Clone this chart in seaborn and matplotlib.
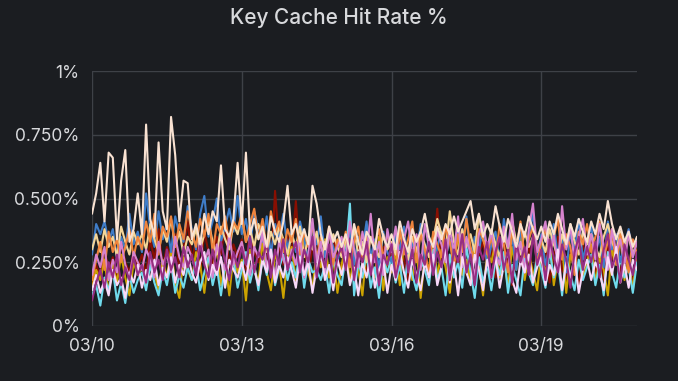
import pandas as pd
import matplotlib.pyplot as plt
import matplotlib.dates as mdates
import seaborn as sns

# values in percent, one point every 2 hours from 03/10 00:00 (12 points per day)
beige = [0.44, 0.52, 0.64, 0.41, 0.68, 0.66, 0.34, 0.57, 0.69, 0.33, 0.38, 0.52,
         0.36, 0.79, 0.42, 0.35, 0.72, 0.45, 0.38, 0.82, 0.67, 0.41, 0.57, 0.56,
         0.34, 0.40, 0.32, 0.44, 0.36, 0.45, 0.41, 0.63, 0.38, 0.35, 0.42, 0.64,
         0.40, 0.68, 0.36, 0.42, 0.34, 0.39, 0.31, 0.43, 0.37, 0.33, 0.41, 0.55,
         0.36, 0.40, 0.33, 0.38, 0.32, 0.55, 0.48, 0.36, 0.30, 0.39, 0.33, 0.37,
         0.31, 0.36, 0.29, 0.40, 0.33, 0.28, 0.37, 0.34, 0.30, 0.42, 0.35, 0.31,
         0.36, 0.30, 0.41, 0.34, 0.29, 0.38, 0.33, 0.37, 0.44, 0.35, 0.31, 0.39,
         0.34, 0.40, 0.36, 0.43, 0.37, 0.41, 0.45, 0.49, 0.38, 0.44, 0.35, 0.40,
         0.36, 0.47, 0.39, 0.33, 0.42, 0.37, 0.31, 0.40, 0.35, 0.43, 0.38, 0.34,
         0.39, 0.33, 0.41, 0.36, 0.44, 0.38, 0.32, 0.40, 0.35, 0.42, 0.37, 0.33,
         0.41, 0.36, 0.44, 0.38, 0.49, 0.40, 0.34, 0.39, 0.33, 0.37, 0.31, 0.35]
blue = [0.28, 0.40, 0.36, 0.41, 0.33, 0.38, 0.27, 0.35, 0.30, 0.44, 0.32, 0.37,
        0.29, 0.52, 0.38, 0.31, 0.45, 0.34, 0.40, 0.29, 0.43, 0.36, 0.33, 0.47,
        0.38, 0.30, 0.44, 0.51, 0.35, 0.41, 0.50, 0.33, 0.39, 0.46, 0.37, 0.51,
        0.36, 0.42, 0.31, 0.45, 0.38, 0.33, 0.43, 0.28, 0.40, 0.35, 0.44, 0.30,
        0.37, 0.29, 0.41, 0.34, 0.26, 0.39, 0.32, 0.43, 0.27, 0.36, 0.31, 0.25,
        0.33, 0.28, 0.38, 0.24, 0.35, 0.30, 0.41, 0.27, 0.34, 0.22, 0.37, 0.29,
        0.25, 0.36, 0.30, 0.39, 0.23, 0.33, 0.28, 0.40, 0.26, 0.35, 0.21, 0.31,
        0.37, 0.27, 0.34, 0.24, 0.38, 0.30, 0.43, 0.26, 0.35, 0.29, 0.40, 0.23,
        0.32, 0.37, 0.25, 0.42, 0.30, 0.35, 0.22, 0.38, 0.28, 0.33, 0.45, 0.27,
        0.36, 0.24, 0.31, 0.40, 0.27, 0.34, 0.21, 0.37, 0.29, 0.42, 0.26, 0.33,
        0.39, 0.28, 0.35, 0.23, 0.41, 0.30, 0.36, 0.25, 0.32, 0.38, 0.27, 0.34]
orange = [0.18, 0.26, 0.33, 0.22, 0.37, 0.29, 0.34, 0.25, 0.31, 0.38, 0.27, 0.35,
          0.30, 0.41, 0.33, 0.44, 0.28, 0.39, 0.35, 0.43, 0.31, 0.40, 0.34, 0.45,
          0.37, 0.31, 0.42, 0.35, 0.44, 0.29, 0.40, 0.36, 0.43, 0.32, 0.41, 0.38,
          0.44, 0.33, 0.40, 0.46, 0.34, 0.42, 0.30, 0.45, 0.36, 0.41, 0.29, 0.38,
          0.33, 0.42, 0.28, 0.37, 0.31, 0.40, 0.26, 0.35, 0.30, 0.39, 0.24, 0.34,
          0.29, 0.37, 0.23, 0.33, 0.39, 0.27, 0.35, 0.21, 0.32, 0.38, 0.26, 0.36,
          0.31, 0.22, 0.38, 0.28, 0.34, 0.41, 0.25, 0.36, 0.30, 0.20, 0.37, 0.32,
          0.27, 0.39, 0.33, 0.23, 0.36, 0.29, 0.42, 0.31, 0.25, 0.38, 0.34, 0.28,
          0.35, 0.26, 0.40, 0.32, 0.21, 0.37, 0.30, 0.41, 0.27, 0.34, 0.39, 0.24,
          0.33, 0.38, 0.28, 0.35, 0.42, 0.26, 0.36, 0.31, 0.20, 0.37, 0.32, 0.40,
          0.29, 0.35, 0.41, 0.27, 0.33, 0.38, 0.24, 0.36, 0.30, 0.21, 0.34, 0.28]
yellow = [0.30, 0.36, 0.29, 0.38, 0.31, 0.35, 0.27, 0.39, 0.33, 0.28, 0.37, 0.32,
          0.36, 0.30, 0.40, 0.34, 0.29, 0.38, 0.33, 0.42, 0.31, 0.37, 0.28, 0.35,
          0.32, 0.38, 0.30, 0.36, 0.41, 0.33, 0.28, 0.39, 0.34, 0.30, 0.40, 0.36,
          0.43, 0.33, 0.38, 0.31, 0.40, 0.35, 0.29, 0.37, 0.32, 0.39, 0.34, 0.28,
          0.36, 0.31, 0.39, 0.27, 0.35, 0.30, 0.37, 0.26, 0.33, 0.29, 0.36, 0.31,
          0.27, 0.34, 0.30, 0.38, 0.28, 0.33, 0.25, 0.35, 0.31, 0.27, 0.36, 0.30,
          0.33, 0.28, 0.36, 0.31, 0.26, 0.35, 0.29, 0.37, 0.32, 0.27, 0.34, 0.42,
          0.36, 0.30, 0.45, 0.33, 0.28, 0.38, 0.31, 0.36, 0.29, 0.44, 0.34, 0.30,
          0.38, 0.32, 0.27, 0.36, 0.30, 0.41, 0.33, 0.28, 0.37, 0.31, 0.35, 0.29,
          0.34, 0.29, 0.38, 0.32, 0.27, 0.36, 0.31, 0.40, 0.33, 0.28, 0.37, 0.32,
          0.36, 0.31, 0.27, 0.35, 0.40, 0.33, 0.29, 0.37, 0.31, 0.35, 0.28, 0.33]
purple = [0.10, 0.17, 0.22, 0.15, 0.25, 0.19, 0.28, 0.16, 0.23, 0.18, 0.27, 0.20,
          0.24, 0.17, 0.29, 0.21, 0.26, 0.18, 0.30, 0.22, 0.27, 0.19, 0.31, 0.23,
          0.28, 0.20, 0.32, 0.24, 0.19, 0.30, 0.22, 0.33, 0.25, 0.18, 0.29, 0.23,
          0.31, 0.24, 0.35, 0.21, 0.29, 0.26, 0.33, 0.19, 0.30, 0.24, 0.34, 0.22,
          0.28, 0.33, 0.21, 0.30, 0.25, 0.35, 0.19, 0.29, 0.23, 0.32, 0.17, 0.27,
          0.31, 0.22, 0.34, 0.18, 0.29, 0.25, 0.33, 0.20, 0.30, 0.16, 0.28, 0.24,
          0.32, 0.19, 0.27, 0.35, 0.21, 0.30, 0.17, 0.28, 0.24, 0.33, 0.20, 0.29,
          0.23, 0.34, 0.18, 0.30, 0.25, 0.36, 0.21, 0.28, 0.16, 0.31, 0.26, 0.33,
          0.19, 0.29, 0.35, 0.22, 0.30, 0.17, 0.33, 0.25, 0.31, 0.20, 0.36, 0.24,
          0.30, 0.18, 0.34, 0.27, 0.21, 0.32, 0.26, 0.15, 0.29, 0.35, 0.22, 0.31,
          0.25, 0.33, 0.19, 0.30, 0.36, 0.23, 0.28, 0.17, 0.32, 0.26, 0.20, 0.29]
white = [0.14, 0.20, 0.13, 0.18, 0.12, 0.22, 0.16, 0.19, 0.11, 0.21, 0.17, 0.24,
         0.15, 0.22, 0.18, 0.26, 0.16, 0.23, 0.19, 0.27, 0.17, 0.24, 0.20, 0.28,
         0.21, 0.17, 0.25, 0.29, 0.18, 0.24, 0.20, 0.27, 0.15, 0.26, 0.22, 0.19,
         0.25, 0.18, 0.28, 0.22, 0.16, 0.26, 0.21, 0.30, 0.17, 0.24, 0.19, 0.27,
         0.22, 0.15, 0.27, 0.20, 0.25, 0.13, 0.23, 0.29, 0.18, 0.24, 0.14, 0.26,
         0.20, 0.27, 0.16, 0.23, 0.12, 0.25, 0.19, 0.28, 0.15, 0.22, 0.26, 0.13,
         0.24, 0.18, 0.29, 0.21, 0.15, 0.26, 0.20, 0.14, 0.25, 0.19, 0.28, 0.16,
         0.23, 0.30, 0.17, 0.25, 0.12, 0.27, 0.21, 0.16, 0.28, 0.22, 0.14, 0.26,
         0.19, 0.27, 0.15, 0.24, 0.29, 0.18, 0.13, 0.26, 0.21, 0.28, 0.17, 0.23,
         0.27, 0.16, 0.24, 0.20, 0.30, 0.14, 0.25, 0.19, 0.27, 0.13, 0.22, 0.26,
         0.18, 0.25, 0.21, 0.14, 0.27, 0.20, 0.31, 0.17, 0.24, 0.15, 0.26, 0.22]
cyan = [0.12, 0.16, 0.08, 0.19, 0.14, 0.22, 0.10, 0.17, 0.09, 0.20, 0.13, 0.18,
        0.21, 0.14, 0.24, 0.17, 0.12, 0.22, 0.16, 0.25, 0.13, 0.20, 0.15, 0.23,
        0.18, 0.25, 0.14, 0.21, 0.27, 0.16, 0.23, 0.12, 0.24, 0.19, 0.26, 0.15,
        0.22, 0.29, 0.17, 0.24, 0.14, 0.27, 0.20, 0.31, 0.16, 0.23, 0.28, 0.18,
        0.25, 0.19, 0.30, 0.15, 0.26, 0.21, 0.22, 0.18, 0.24, 0.13, 0.27, 0.20,
        0.16, 0.28, 0.48, 0.12, 0.25, 0.19, 0.29, 0.15, 0.23, 0.11, 0.26, 0.21,
        0.27, 0.17, 0.24, 0.13, 0.29, 0.20, 0.14, 0.26, 0.22, 0.16, 0.30, 0.18,
        0.23, 0.12, 0.28, 0.19, 0.25, 0.15, 0.31, 0.21, 0.11, 0.27, 0.17, 0.24,
        0.14, 0.26, 0.20, 0.29, 0.13, 0.24, 0.18, 0.12, 0.27, 0.21, 0.16, 0.28,
        0.22, 0.15, 0.30, 0.19, 0.25, 0.12, 0.27, 0.20, 0.14, 0.26, 0.18, 0.23,
        0.28, 0.16, 0.24, 0.12, 0.29, 0.21, 0.15, 0.27, 0.19, 0.23, 0.13, 0.25]
darkred = [0.16, 0.24, 0.19, 0.30, 0.22, 0.27, 0.18, 0.33, 0.25, 0.21, 0.29, 0.23,
           0.28, 0.20, 0.34, 0.26, 0.38, 0.23, 0.31, 0.27, 0.36, 0.22, 0.30, 0.41,
           0.26, 0.33, 0.21, 0.37, 0.29, 0.24, 0.35, 0.28, 0.40, 0.23, 0.32, 0.27,
           0.34, 0.22, 0.39, 0.29, 0.25, 0.36, 0.30, 0.21, 0.53, 0.31, 0.24, 0.35,
           0.28, 0.49, 0.26, 0.33, 0.20, 0.31, 0.37, 0.24, 0.30, 0.19, 0.34, 0.27,
           0.22, 0.30, 0.25, 0.18, 0.33, 0.27, 0.21, 0.35, 0.29, 0.17, 0.31, 0.24,
           0.29, 0.20, 0.33, 0.26, 0.18, 0.34, 0.28, 0.23, 0.31, 0.19, 0.27, 0.46,
           0.25, 0.32, 0.18, 0.29, 0.24, 0.35, 0.20, 0.30, 0.16, 0.28, 0.33, 0.22,
           0.30, 0.19, 0.27, 0.34, 0.23, 0.16, 0.31, 0.26, 0.21, 0.33, 0.18, 0.29,
           0.24, 0.31, 0.17, 0.28, 0.35, 0.22, 0.19, 0.30, 0.25, 0.15, 0.32, 0.27,
           0.33, 0.21, 0.28, 0.18, 0.31, 0.26, 0.36, 0.20, 0.29, 0.23, 0.17, 0.30]
gold = [0.15, 0.22, 0.18, 0.26, 0.13, 0.24, 0.17, 0.28, 0.19, 0.12, 0.25, 0.20,
        0.23, 0.16, 0.28, 0.21, 0.14, 0.26, 0.19, 0.30, 0.17, 0.11, 0.27, 0.22,
        0.18, 0.29, 0.24, 0.13, 0.27, 0.20, 0.31, 0.16, 0.25, 0.12, 0.28, 0.21,
        0.26, 0.10, 0.30, 0.23, 0.17, 0.33, 0.21, 0.14, 0.28, 0.24, 0.11, 0.27,
        0.31, 0.18, 0.25, 0.36, 0.21, 0.15, 0.29, 0.23, 0.34, 0.19, 0.26, 0.13,
        0.24, 0.32, 0.17, 0.28, 0.22, 0.12, 0.30, 0.25, 0.19, 0.35, 0.14, 0.27,
        0.21, 0.29, 0.16, 0.33, 0.24, 0.18, 0.31, 0.11, 0.27, 0.22, 0.36, 0.19,
        0.30, 0.23, 0.13, 0.28, 0.35, 0.20, 0.26, 0.17, 0.32, 0.24, 0.12, 0.29,
        0.25, 0.33, 0.19, 0.27, 0.15, 0.31, 0.22, 0.37, 0.18, 0.28, 0.21, 0.14,
        0.29, 0.20, 0.34, 0.16, 0.26, 0.31, 0.13, 0.28, 0.23, 0.36, 0.19, 0.25,
        0.32, 0.17, 0.27, 0.22, 0.12, 0.30, 0.24, 0.35, 0.18, 0.26, 0.14, 0.29]
pink = [0.20, 0.28, 0.23, 0.31, 0.18, 0.26, 0.21, 0.33, 0.24, 0.19, 0.29, 0.25,
        0.22, 0.30, 0.26, 0.19, 0.33, 0.24, 0.28, 0.21, 0.35, 0.27, 0.23, 0.31,
        0.27, 0.21, 0.34, 0.25, 0.30, 0.19, 0.32, 0.26, 0.22, 0.36, 0.24, 0.29,
        0.33, 0.25, 0.20, 0.31, 0.27, 0.37, 0.23, 0.29, 0.18, 0.34, 0.26, 0.22,
        0.30, 0.24, 0.35, 0.19, 0.28, 0.42, 0.25, 0.33, 0.21, 0.38, 0.27, 0.31,
        0.35, 0.26, 0.41, 0.30, 0.23, 0.37, 0.28, 0.44, 0.25, 0.33, 0.20, 0.38,
        0.29, 0.39, 0.24, 0.34, 0.41, 0.27, 0.36, 0.22, 0.40, 0.31, 0.26, 0.37,
        0.32, 0.25, 0.38, 0.29, 0.43, 0.23, 0.35, 0.28, 0.19, 0.36, 0.41, 0.30,
        0.37, 0.28, 0.24, 0.39, 0.31, 0.44, 0.26, 0.33, 0.21, 0.38, 0.48, 0.29,
        0.34, 0.41, 0.27, 0.36, 0.23, 0.47, 0.30, 0.39, 0.25, 0.35, 0.42, 0.28,
        0.36, 0.26, 0.40, 0.31, 0.22, 0.38, 0.29, 0.34, 0.24, 0.37, 0.27, 0.33]

# draw order, last one on top
series = {
    "darkred": darkred, "gold": gold, "cyan": cyan, "blue": blue,
    "yellow": yellow, "orange": orange, "pink": pink, "white": white,
    "purple": purple, "beige": beige,
}
colors = {
    "darkred": "#890F02", "gold": "#CCA300", "cyan": "#70DBED", "blue": "#3F7DC9",
    "yellow": "#F4D598", "orange": "#EF843C", "pink": "#D683CE", "white": "#F9D9F9",
    "purple": "#962D82", "beige": "#F9E2D2",
}

times = pd.date_range("2024-03-10 00:00", periods=len(beige), freq="2h")
df = pd.concat([pd.DataFrame({"time": times, "value": v, "series": k})
                for k, v in series.items()], ignore_index=True)

bg = "#1b1d21"
txt = "#d8d9dc"
sns.set_style("dark", {"axes.facecolor": bg, "figure.facecolor": bg})
plt.rcParams["font.family"] = ["Inter", "DejaVu Sans"]

fig = plt.figure(figsize=(6.78, 3.81), dpi=100)
ax = fig.add_axes([0.1357, 0.1444, 0.8038, 0.6692])

sns.lineplot(data=df, x="time", y="value", hue="series", hue_order=list(series),
             palette=colors, legend=False, linewidth=1.5, errorbar=None, ax=ax)

ax.set_xlim(times[0], times[-1])
ax.set_ylim(0, 1)
ax.set_yticks([0, 0.25, 0.5, 0.75, 1])
ax.set_yticklabels(["0%", "0.250%", "0.500%", "0.750%", "1%"])
ax.set_xticks(pd.to_datetime(["2024-03-10", "2024-03-13", "2024-03-16", "2024-03-19"]))
ax.xaxis.set_major_formatter(mdates.DateFormatter("%m/%d"))
ax.tick_params(colors=txt, labelsize=12.5, length=0, pad=9)
ax.grid(True, color="#3e4147", linewidth=1)
ax.set_axisbelow(True)
for s in ax.spines.values():
    s.set_visible(False)
ax.set_xlabel("")
ax.set_ylabel("")

fig.text(0.5, 0.953, "Key Cache Hit Rate %", ha="center", va="center",
         color=txt, fontsize=15, fontweight="medium")

fig.savefig("out.png", dpi=100, facecolor=bg)
